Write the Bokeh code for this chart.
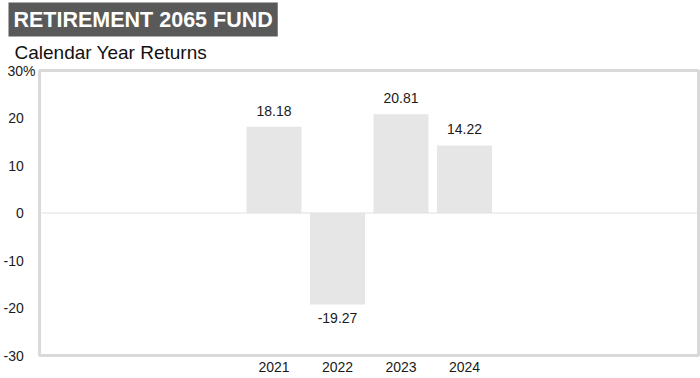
from bokeh.plotting import figure
from bokeh.models import ColumnDataSource, Title, Span, FixedTicker, Range1d
from bokeh.embed import file_html
from bokeh.resources import INLINE

title_text = "RETIREMENT 2065 FUND"
subtitle_text = "Calendar Year Returns"
years = [2021, 2022, 2023, 2024]
returns = [18.18, -19.27, 20.81, 14.22]
y_ticks = [-30, -20, -10, 0, 10, 20, 30]

FONT = "Liberation Sans"
TXT = "#1a1a1a"

labels = [f"{v:.2f}" for v in returns]
offsets = [-16 if v >= 0 else 13 for v in returns]
src = ColumnDataSource(dict(x=years, top=returns, label=labels, off=offsets))

main = Title(text=title_text, align="left", offset=-31, standoff=0,
             text_font=FONT, text_font_size="21.5px", text_font_style="bold",
             text_color="white", background_fill_color="#595959", padding=5)

p = figure(width=700, height=378, output_backend="svg", toolbar_location=None,
           x_range=Range1d(2017.307, 2027.685), y_range=Range1d(-30, 30),
           min_border_left=39, min_border_right=2, min_border_top=0, min_border_bottom=23,
           title=main, title_location="above")

p.background_fill_color = "white"
p.border_fill_color = "white"
p.outline_line_color = "#d9d9d9"
p.outline_line_width = 3
p.xgrid.visible = False
p.ygrid.visible = False

p.vbar(x="x", top="top", bottom=0, width=0.866, source=src,
       fill_color="#e6e6e6", line_color=None)

p.add_layout(Span(location=0, dimension="width", line_color="#e0e0e0", line_width=1))

p.text(x="x", y="top", text="label", y_offset="off", source=src,
       text_align="center", text_baseline="alphabetic",
       text_font=dict(value=FONT), text_font_size="14px", text_color=TXT)

for ax in (p.xaxis[0], p.yaxis[0]):
    ax.axis_line_color = None
    ax.major_tick_line_color = None
    ax.minor_tick_line_color = None
    ax.major_tick_out = 0
    ax.major_tick_in = 0
    ax.major_label_text_font = FONT
    ax.major_label_text_font_size = "14px"
    ax.major_label_text_color = TXT

p.xaxis.ticker = FixedTicker(ticks=years)
p.xaxis.major_label_standoff = 6
p.yaxis.ticker = FixedTicker(ticks=y_ticks)
p.yaxis.major_label_overrides = {
    t: (f"{t}%" if t == max(y_ticks) else f"{t}\u2007\u2008") for t in y_ticks
}
p.yaxis.major_label_standoff = 4

sub = Title(text=subtitle_text, align="left", offset=-25, standoff=11,
            vertical_align="top",
            text_font=FONT, text_font_size="19px", text_font_style="normal",
            text_color="#111111")
p.add_layout(sub, "above")

open("out.html", "w").write(file_html(p, INLINE))
